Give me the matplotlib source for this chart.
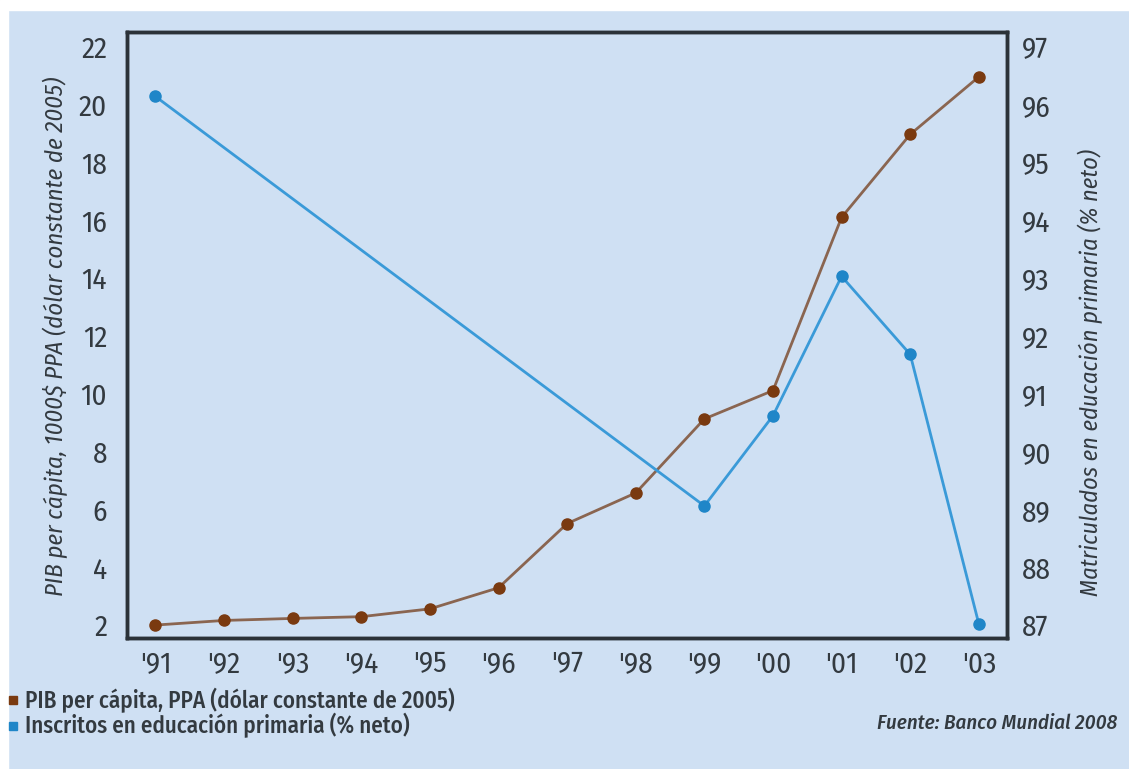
import matplotlib.pyplot as plt
from matplotlib.lines import Line2D
from matplotlib.patches import Rectangle
from matplotlib import font_manager

years = ["'91", "'92", "'93", "'94", "'95", "'96", "'97", "'98", "'99", "'00", "'01", "'02", "'03"]
pib = [2.0, 2.16, 2.23, 2.29, 2.56, 3.29, 5.51, 6.57, 9.13, 10.11, 16.1, 18.97, 20.96]
edu_idx = [0, 8, 9, 10, 11, 12]
edu = [96.14, 89.06, 90.62, 93.03, 91.68, 87.02]

# pick a condensed face if one is around
names = {f.name for f in font_manager.fontManager.ttflist}
fam = 'DejaVu Sans'
for cand in ['Fira Sans Condensed', 'Roboto Condensed', 'Asap Condensed', 'PT Sans Narrow',
             'Encode Sans Condensed', 'Liberation Sans Narrow', 'Open Sans']:
    if cand in names:
        fam = cand
        break
plt.rcParams['font.family'] = [fam, 'DejaVu Sans']

bg = '#cfe0f3'
txt = '#333a40'
brown = '#7a3a10'
blue = '#1f86c8'

fig = plt.figure(figsize=(11.29, 7.69), dpi=100, facecolor=bg)
fig.patches.append(Rectangle((0, 0.987), 1, 0.013, transform=fig.transFigure, color='white', zorder=0))
fig.patches.append(Rectangle((0, 0), 0.007, 1, transform=fig.transFigure, color='white', zorder=0))

ax = fig.add_axes([0.1122, 0.171, 0.7797, 0.787])
ax.set_facecolor(bg)
ax2 = ax.twinx()

x = list(range(len(years)))
ax.plot(x, pib, color='#8a6550', lw=2, marker='o', ms=8, mfc=brown, mec=brown, zorder=3)
ax2.plot(edu_idx, edu, color='#3a9ad8', lw=2, marker='o', ms=8, mfc=blue, mec=blue, zorder=3)

ax.set_xlim(-0.42, 12.41)
ax.set_ylim(1.57, 22.5)
ax2.set_ylim(86.785, 97.25)
ax.set_xticks(x)
ax.set_xticklabels(years)
ax.set_yticks(range(2, 23, 2))
ax2.set_yticks(range(87, 98))

ax.tick_params(axis='both', length=0, labelsize=21, colors=txt)
ax.tick_params(axis='x', pad=9)
ax.tick_params(axis='y', pad=14)
ax2.tick_params(axis='y', length=0, labelsize=21, colors=txt, pad=11)

for a in (ax, ax2):
    for s in a.spines.values():
        s.set_color('#2b3238')
        s.set_linewidth(2.5)

# axis titles
fig.text(0.0487, 0.562, 'PIB per cápita, 1000$ PPA (dólar constante de 2005)', fontsize=17.8,
         style='italic', color=txt, rotation=90, ha='center', va='center')
fig.text(0.9655, 0.515, 'Matriculados en educación primaria (% neto)', fontsize=17.5,
         style='italic', color=txt, rotation=90, ha='center', va='center')

handles = [Line2D([], [], ls='none', marker='s', ms=6, color=brown),
           Line2D([], [], ls='none', marker='s', ms=6, color=blue)]
fig.legend(handles, ['PIB per cápita, PPA (dólar constante de 2005)',
                     'Inscritos en educación primaria (% neto)'],
           loc='center left', bbox_to_anchor=(0.006, 0.0725), frameon=False,
           handlelength=0.5, handletextpad=0.3, labelspacing=0.0, labelcolor=txt,
           borderaxespad=0, borderpad=0, prop={'weight': 'medium', 'size': 16.6})

fig.text(0.99, 0.06, 'Fuente: Banco Mundial 2008', ha='right', va='center',
         fontsize=15, style='italic', weight='medium', color=txt)

fig.savefig('out.png', dpi=100, facecolor=bg)
